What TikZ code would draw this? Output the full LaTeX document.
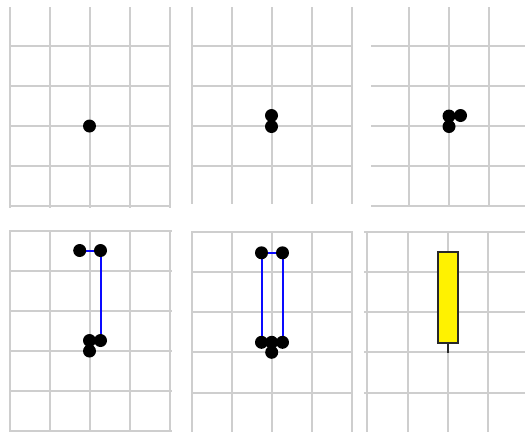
\documentclass[tikz,border=0pt]{standalone}
\definecolor{gridgray}{RGB}{206,206,206}
\definecolor{wickgray}{RGB}{40,40,40}
\definecolor{linkblue}{RGB}{10,10,255}
\pgfdeclarelayer{background}
\pgfsetlayers{background,main}
\tikzset{
  gridline/.style={draw=gridgray, line width=2pt},
  pt/.style={circle, fill=black, draw=none, inner sep=0pt, minimum size=13pt},
  link/.style={draw=linkblue, line width=2pt},
  body/.style={draw=wickgray, line width=1.8pt, fill=yellow, inner sep=0pt,
               minimum width=20.5pt, minimum height=91pt},
  wick/.style={draw=wickgray, line width=1.8pt}
}
\begin{document}
\begin{tikzpicture}[x=1pt, y=-1pt]
\useasboundingbox (0,0) rectangle (525,432);

% ---- grids ----
\begin{pgfonlayer}{background}
% panel 1
\foreach \x in {10,50,89.5,129.5,169.5} \draw[gridline] (\x,7) -- (\x,208);
\foreach \y in {46,86,126,166,206} \draw[gridline] (9,\y) -- (171,\y);
% panel 2
\foreach \x in {191.5,231.5,271.5,311.5,351.5} \draw[gridline] (\x,7) -- (\x,204);
\foreach \y in {46,86,126,166} \draw[gridline] (191,\y) -- (352,\y);
% panel 3
\foreach \x in {409,449,489} \draw[gridline] (\x,7) -- (\x,207);
\foreach \y in {46,86,126,166,206} \draw[gridline] (371,\y) -- (525,\y);
% panel 4
\foreach \x in {10,50,89.5,129.5,169.5} \draw[gridline] (\x,230) -- (\x,432);
\foreach \y in {230.5,271,311,351,391,430.5} \draw[gridline] (9,\y) -- (171.5,\y);
% panel 5
\foreach \x in {191.5,231.5,271.5,311.5,351.5} \draw[gridline] (\x,231) -- (\x,432);
\foreach \y in {232,272,312,352.3,392.7} \draw[gridline] (191,\y) -- (352.5,\y);
% panel 6
\foreach \x in {367,407.5,448,488} \draw[gridline] (\x,231.5) -- (\x,432);
\foreach \y in {232.3,272.3,312.3,352.3,392.7} \draw[gridline] (364,\y) -- (525,\y);
\end{pgfonlayer}

% ---- panel 1: one point ----
\node[pt] (a1) at (89.5,126) {};

% ---- panel 2: two stacked points ----
\node[pt] (b1) at (271.5,126.5) {};
\node[pt] (b2) at (271.5,115.5) {};

% ---- panel 3: three points ----
\node[pt] (c1) at (449,126.5) {};
\node[pt] (c2) at (449,116) {};
\node[pt] (c3) at (460.5,115.5) {};

% ---- panel 4: points with one side traced ----
\node[pt] (d1) at (89.5,351) {};
\node[pt] (d2) at (89.5,340.5) {};
\node[pt] (d3) at (100.5,340.5) {};
\node[pt] (d4) at (79.7,250.5) {};
\node[pt] (d5) at (100.5,250.5) {};
\begin{pgfonlayer}{background}
\draw[link] (d4.center) -- (d5.center) -- (d3.center);
\end{pgfonlayer}

% ---- panel 5: both sides traced ----
\node[pt] (e1) at (271.7,352.3) {};
\node[pt] (e2) at (261.5,342.3) {};
\node[pt] (e3) at (282.5,342.3) {};
\node[pt] (e4) at (271.7,342.3) {};
\node[pt] (e5) at (261.5,252.8) {};
\node[pt] (e6) at (282.5,252.8) {};
\begin{pgfonlayer}{background}
\draw[link] (e2.center) -- (e5.center) -- (e6.center) -- (e3.center);
\end{pgfonlayer}

% ---- panel 6: resulting candle ----
\node[body] (candle) at (448,297.3) {};
\coordinate (low) at (448,353.3);
\draw[wick] (candle.south) -- (low);
\end{tikzpicture}
\end{document}
